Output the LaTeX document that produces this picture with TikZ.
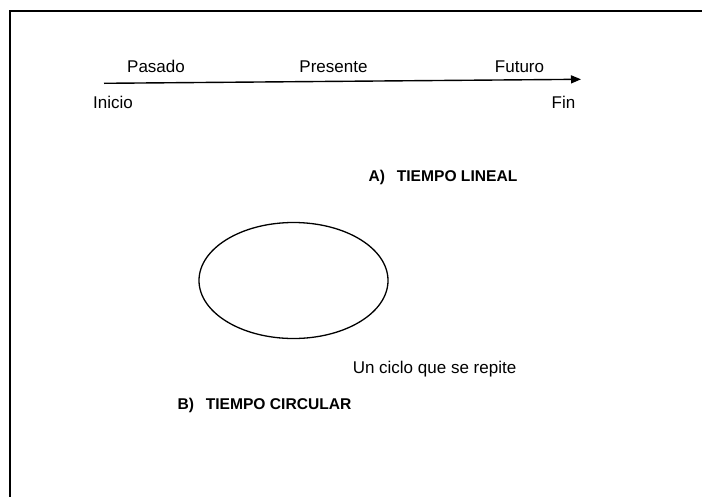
\documentclass[tikz,border=0pt]{standalone}
\usepackage{fontspec}
\setmainfont{Liberation Sans}
\usetikzlibrary{arrows.meta,shapes.geometric}
\tikzset{
	etiqueta/.style={draw=none,inner sep=0pt,anchor=base,font=\fontsize{17}{20}\selectfont},
	titulo/.style={draw=none,inner sep=0pt,anchor=base,font=\bfseries\fontsize{15.6}{18}\selectfont},
	flecha/.style={line width=1.4pt,arrows={-Triangle[length=10pt,width=8pt]}}
	}
\begin{document}
\begin{tikzpicture}[x=1pt,y=-1pt,
		marco/.style={line width=1.5pt},
		ciclo/.style={line width=1.3pt}]
		\useasboundingbox (0,0) rectangle (702,496);
		\draw[marco] (10,500) -- (10,11) -- (706,11);
		% tiempo lineal
		\coordinate (ini) at (104,83.3);
		\coordinate (fin) at (581,79.3);
		\draw[flecha] (ini) -- (fin);
		\node[etiqueta] (pasado) at (156,72) {Pasado};
		\node[etiqueta] (presente) at (333.5,72) {Presente};
		\node[etiqueta] (futuro) at (519.5,72) {Futuro};
		\node[etiqueta] (inicio) at (113,108) {Inicio};
		\node[etiqueta] (fin txt) at (563.5,108) {Fin};
		\node[titulo] (lineal) at (443,181) {A)\hspace{0.75em}TIEMPO LINEAL};
		% tiempo circular
		\node[ciclo,draw,ellipse,minimum width=189,minimum height=116,inner sep=0pt,anchor=center] (elipse) at (293.5,280.5) {};
		\node[etiqueta] (repite) at (434.5,373) {Un ciclo que se repite};
		\node[titulo] (circular) at (264.5,409) {B)\hspace{0.75em}TIEMPO CIRCULAR};
\end{tikzpicture}
\end{document}
